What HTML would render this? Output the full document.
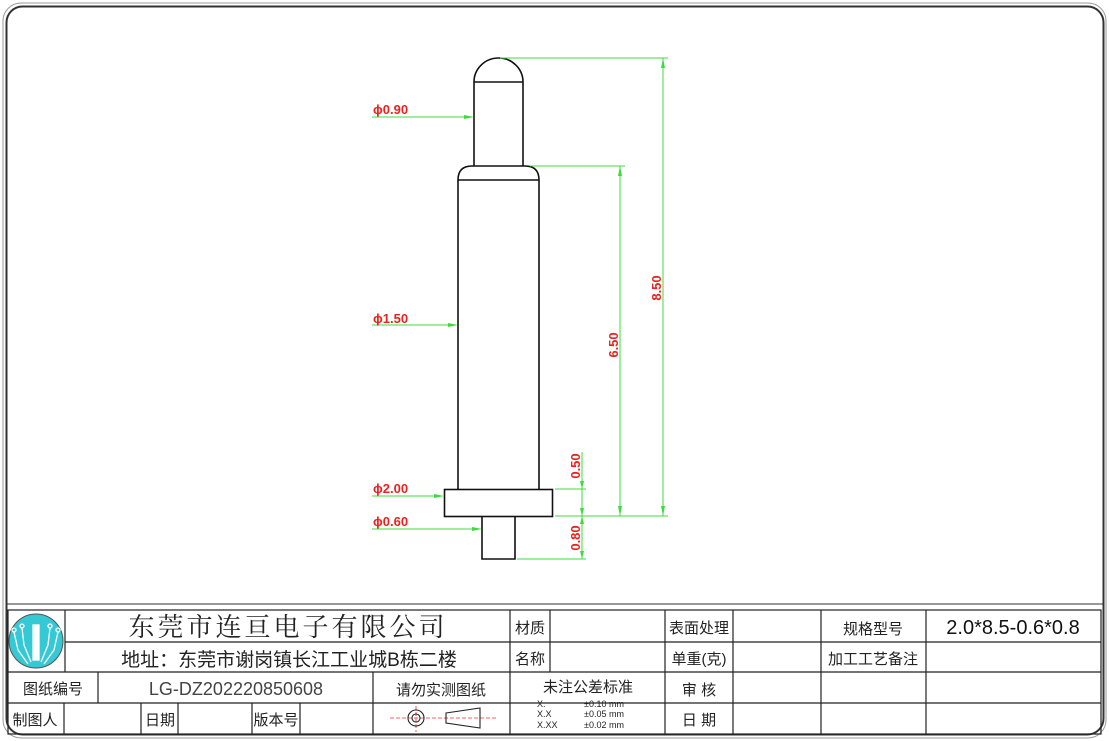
<!DOCTYPE html>
<html><head><meta charset="utf-8"><style>
html,body{margin:0;padding:0;background:#fff;}
svg{display:block;}
.cn{font-family:"Liberation Sans","Noto Sans CJK SC",sans-serif;fill:#222;}
.dim{font-family:"Liberation Sans Narrow","Liberation Sans",sans-serif;font-weight:bold;fill:#e8231f;font-size:13px;}
</style></head><body>
<svg width="1109" height="741" viewBox="0 0 1109 741" xmlns="http://www.w3.org/2000/svg">
<rect x="0" y="0" width="1109" height="741" fill="#fff"/>
<rect x="6.5" y="6.5" width="1097" height="728" rx="16" fill="none" stroke="#333" stroke-width="2"/>
<rect x="3" y="3" width="1103" height="735" rx="18" fill="none" stroke="#999" stroke-width="1"/>
<line x1="6" y1="604" x2="1104" y2="604" stroke="#333" stroke-width="1"/>

<!-- part drawing -->
<g fill="none" stroke="#111" stroke-width="1.6">
<path d="M474,82 A24.5,24 0 0 1 523,82"/>
<line x1="474" y1="82" x2="523" y2="82"/>
<line x1="474" y1="82" x2="474" y2="166"/>
<line x1="523" y1="82" x2="523" y2="166"/>
<path d="M458,180 Q458,166 472,166 L525,166 Q539,166 539,180"/>
<line x1="458" y1="180" x2="539" y2="180"/>
<line x1="458" y1="180" x2="458" y2="489"/>
<line x1="539" y1="180" x2="539" y2="489"/>
<rect x="444.5" y="489.5" width="108" height="27"/>
<polyline points="482,516 482,559 515,559 515,516"/>
</g>

<!-- dimensions -->
<g stroke="#3ddc3d" stroke-width="1" fill="none">
<line x1="500" y1="58" x2="668" y2="58"/>
<line x1="663" y1="58" x2="663" y2="516"/>
<line x1="530" y1="166" x2="625" y2="166"/>
<line x1="620" y1="166" x2="620" y2="516"/>
<line x1="555" y1="516" x2="668" y2="516"/>
<line x1="555" y1="489" x2="586" y2="489"/>
<line x1="517" y1="559" x2="586" y2="559"/>
<line x1="582" y1="452" x2="582" y2="559"/>
<line x1="372" y1="117" x2="472" y2="117"/>
<line x1="372" y1="325" x2="456" y2="325"/>
<line x1="372" y1="496" x2="442" y2="496"/>
<line x1="372" y1="529" x2="480" y2="529"/>
</g>
<g fill="#3ddc3d">
<polygon points="663,58 661,68 665,68"/><polygon points="663,516 661,506 665,506"/>
<polygon points="620,166 618,176 622,176"/><polygon points="620,516 618,506 622,506"/>
<polygon points="582,489 580,481 584,481"/><polygon points="582,516 580,508 584,508"/>
<polygon points="582,516 580,524 584,524"/><polygon points="582,559 580,551 584,551"/>
<polygon points="474,117 464,115 464,119"/><polygon points="458,325 448,323 448,327"/>
<polygon points="444,496 434,494 434,498"/><polygon points="482,529 472,527 472,531"/>
</g>
<g class="dim">
<text x="373" y="114">ϕ0.90</text>
<text x="373" y="323">ϕ1.50</text>
<text x="373" y="493">ϕ2.00</text>
<text x="373" y="526">ϕ0.60</text>
<text transform="translate(661,288) rotate(-90)" text-anchor="middle">8.50</text>
<text transform="translate(618,345) rotate(-90)" text-anchor="middle">6.50</text>
<text transform="translate(580,466) rotate(-90)" text-anchor="middle">0.50</text>
<text transform="translate(580,538) rotate(-90)" text-anchor="middle">0.80</text>
</g>

<!-- title block -->
<g stroke="#222" stroke-width="1.2" fill="none">
<rect x="8" y="610" width="1093" height="124"/>
<line x1="8" y1="672" x2="1101" y2="672"/>
<line x1="65" y1="642" x2="1101" y2="642"/>
<line x1="510" y1="703" x2="1101" y2="703"/>
<line x1="8" y1="703" x2="510" y2="703"/>
<line x1="65" y1="610" x2="65" y2="672"/>
<line x1="510" y1="610" x2="510" y2="734"/>
<line x1="550" y1="610" x2="550" y2="672"/>
<line x1="665" y1="610" x2="665" y2="734"/>
<line x1="733" y1="610" x2="733" y2="734"/>
<line x1="821" y1="610" x2="821" y2="734"/>
<line x1="926" y1="610" x2="926" y2="734"/>
<line x1="98" y1="672" x2="98" y2="703"/>
<line x1="373" y1="672" x2="373" y2="734"/>
<line x1="64" y1="703" x2="64" y2="734"/>
<line x1="141" y1="703" x2="141" y2="734"/>
<line x1="178" y1="703" x2="178" y2="734"/>
<line x1="252" y1="703" x2="252" y2="734"/>
<line x1="300" y1="703" x2="300" y2="734"/>
</g>
<!-- logo -->
<circle cx="36" cy="641" r="27" fill="#35c9d6" stroke="#555" stroke-width="1"/>
<g stroke="#fff" stroke-width="1.3" fill="none">
<rect x="33" y="625" width="6" height="35" fill="#fff"/>
<path d="M22,628 L24,645 L31,662"/><path d="M50,628 L48,645 L41,662"/>
<path d="M14,632 L18,650 L28,664"/><path d="M58,632 L54,650 L44,664"/>
<circle cx="22" cy="626" r="2"/><circle cx="50" cy="626" r="2"/>
<circle cx="14" cy="630" r="2"/><circle cx="58" cy="630" r="2"/>
</g>
<g class="cn">
<text x="288" y="636" font-size="26" text-anchor="middle" font-family="'Noto Serif CJK SC',serif" letter-spacing="3">东莞市连亘电子有限公司</text>
<text x="289" y="666" font-size="19" text-anchor="middle">地址：东莞市谢岗镇长江工业城B栋二楼</text>
<text x="530" y="633" font-size="15" text-anchor="middle">材质</text>
<text x="530" y="664" font-size="15" text-anchor="middle">名称</text>
<text x="699" y="633" font-size="15" text-anchor="middle">表面处理</text>
<text x="699" y="664" font-size="15" text-anchor="middle">单重(克)</text>
<text x="873" y="634" font-size="15" text-anchor="middle">规格型号</text>
<text x="873" y="664" font-size="15" text-anchor="middle">加工工艺备注</text>
<text x="1013" y="634" font-size="20" text-anchor="middle" fill="#111">2.0*8.5-0.6*0.8</text>
<text x="53" y="694" font-size="15" text-anchor="middle">图纸编号</text>
<text x="236" y="695" font-size="18" text-anchor="middle" fill="#444">LG-DZ202220850608</text>
<text x="441" y="695" font-size="15" text-anchor="middle">请勿实测图纸</text>
<text x="588" y="692" font-size="15" text-anchor="middle">未注公差标准</text>
<text x="537" y="707" font-size="9">X.</text><text x="584" y="707" font-size="9">±0.10  mm</text>
<text x="537" y="717" font-size="9">X.X</text><text x="584" y="717" font-size="9">±0.05  mm</text>
<text x="537" y="728" font-size="9">X.XX</text><text x="584" y="728" font-size="9">±0.02  mm</text>
<text x="699" y="695" font-size="15" text-anchor="middle">审 核</text>
<text x="699" y="725" font-size="15" text-anchor="middle">日 期</text>
<text x="35" y="725" font-size="15" text-anchor="middle">制图人</text>
<text x="160" y="725" font-size="15" text-anchor="middle">日期</text>
<text x="276" y="725" font-size="15" text-anchor="middle">版本号</text>
</g>
<!-- projection symbol -->
<g stroke="#e33" stroke-width="0.8" stroke-dasharray="4,2">
<line x1="390" y1="718" x2="497" y2="718"/>
<line x1="416" y1="706" x2="416" y2="732"/>
</g>
<g stroke="#222" stroke-width="1.1" fill="none">
<circle cx="416" cy="718" r="8"/><circle cx="416" cy="718" r="4"/>
<polygon points="446,713 480,708 480,728 446,723"/>
</g>
</svg>
</body></html>
